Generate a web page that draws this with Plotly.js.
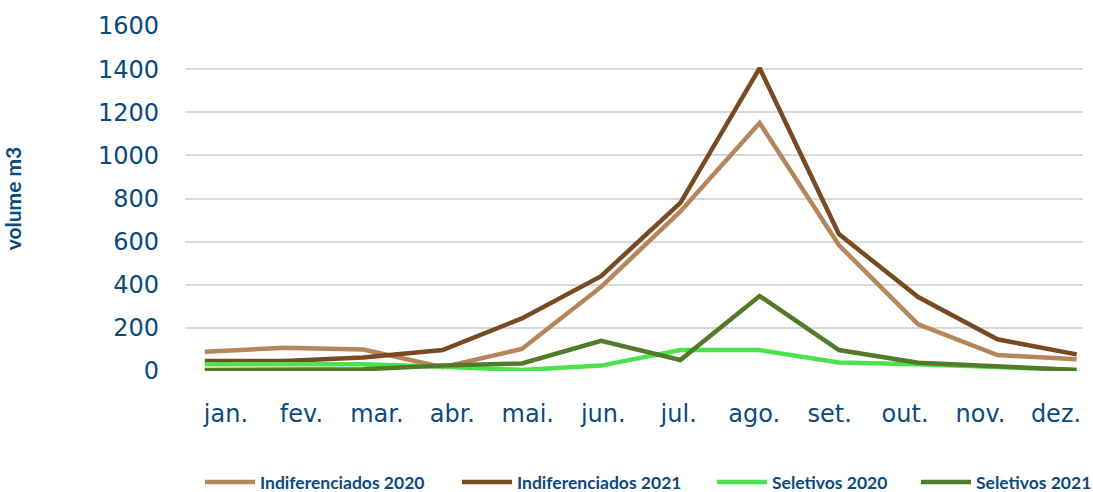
<!DOCTYPE html>
<html>
<head>
<meta charset="utf-8">
<script src="https://cdn.plot.ly/plotly-3.0.1.min.js"></script>
<style>html,body{margin:0;padding:0;background:#fff}#chart{width:1093px;height:492px}</style>
</head>
<body>
<div id="chart"></div>
<script>
const months = ["jan.","fev.","mar.","abr.","mai.","jun.","jul.","ago.","set.","out.","nov.","dez."];
const indif2020 = [89, 108, 100, 18, 102, 390, 740, 1150, 584, 216, 74, 54];
const indif2021 = [46, 46, 63, 97, 244, 440, 780, 1405, 635, 343, 147, 77];
const selet2020 = [31, 31, 31, 20, 5, 25, 97, 97, 40, 31, 20, 5];
const selet2021 = [5, 5, 8, 25, 35, 140, 51, 348, 97, 38, 20, 5];
const yTicks = [0, 200, 400, 600, 800, 1000, 1200, 1400, 1600];

const textColor = "#0B4A7D";
const xIdx = months.map((m, i) => i);

function tr(name, y, color, leg) {
  return {x: xIdx, y: y, name: name, type: "scatter", mode: "lines", legend: leg,
          line: {color: color, width: 4.5}, hoverinfo: "skip"};
}
const data = [
  tr("Indiferenciados 2020", indif2020, "#B4865A", "legend"),
  tr("Indiferenciados 2021", indif2021, "#784A22", "legend2"),
  tr("Seletivos 2020", selet2020, "#4CE24F", "legend3"),
  tr("Seletivos 2021", selet2021, "#527A2B", "legend4"),
  // carrier for the category-label axis (no visible marks)
  {x: xIdx, y: xIdx.map(() => null), xaxis: "x2", yaxis: "y", type: "scatter", mode: "lines",
   showlegend: false, hoverinfo: "skip"}
];
const legFont = {size: 17.5, color: textColor, family: "Lato, sans-serif", weight: "bold"};
function leg(x) {
  return {orientation: "h", x: x, xanchor: "left", y: -0.322, yanchor: "middle",
          font: legFont, itemwidth: 50, bgcolor: "rgba(0,0,0,0)"};
}
const layout = {
  width: 1093, height: 492,
  margin: {l: 185, r: 10, t: 26, b: 121, autoexpand: false},
  paper_bgcolor: "#fff", plot_bgcolor: "#fff",
  font: {family: "'DejaVu Sans', sans-serif", color: textColor},
  showlegend: true,
  legend: leg(0.0167),
  legend2: leg(0.3029),
  legend3: leg(0.5869),
  legend4: leg(0.814),
  xaxis: {range: [-0.25, 11.08], showgrid: false, zeroline: false, showline: false,
          ticks: "", showticklabels: false},
  xaxis2: {overlaying: "x", anchor: "y", side: "bottom", range: [-0.543, 11.358],
           tickvals: xIdx, ticktext: months, showgrid: false, zeroline: false, showline: false,
           ticks: "", ticklabelstandoff: 26, ticklabeloverflow: "allow",
           tickfont: {size: 24, color: textColor, family: "'DejaVu Sans', sans-serif"}},
  yaxis: {range: [0, 1600], tickvals: yTicks, showgrid: true, gridcolor: "#D9D9D9",
          gridwidth: 2, zeroline: false, showline: false, ticks: "", ticklabelstandoff: 25,
          tickfont: {size: 24, color: textColor, family: "'DejaVu Sans', sans-serif"},
          title: {text: "volume m3", font: {size: 21, color: textColor, family: "Lato, sans-serif", weight: "bold"}, standoff: 70}}
};
Plotly.newPlot("chart", data, layout, {displayModeBar: false, staticPlot: true});
</script>
</body>
</html>
